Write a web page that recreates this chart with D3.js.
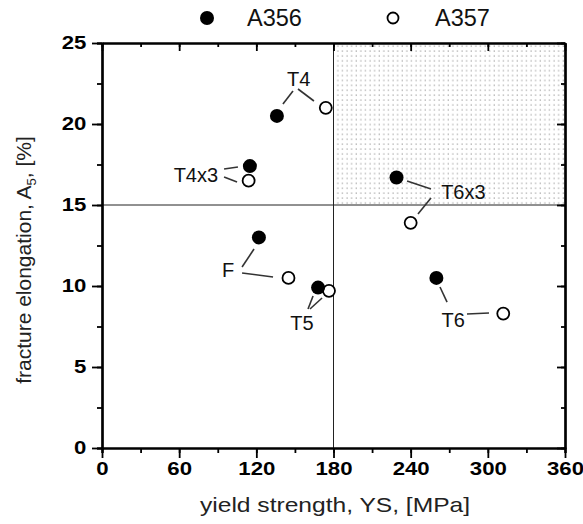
<!DOCTYPE html>
<html>
<head>
<meta charset="utf-8">
<script src="https://cdn.jsdelivr.net/npm/d3@7"></script>
<style>
 body { margin:0; background:#fff; }
 text { font-family: Arial, "Liberation Sans", sans-serif; }
</style>
</head>
<body>
<script>
// data
var states = ["T4", "T4x3", "F", "T5", "T6x3", "T6"];
var a356YS = [136, 115, 122, 168, 229, 260];
var a356A5 = [20.5, 17.4, 13.0, 9.9, 16.7, 10.5];
var a357YS = [174, 114, 145, 176.5, 240, 312];
var a357A5 = [21.0, 16.5, 10.5, 9.7, 13.9, 8.3];
// label anchors and leader lines, in data units
var labelX = [153, 73, 98, 155.5, 281, 273];
var labelY = [22.8, 16.85, 11.0, 7.7, 15.8, 7.9];
var lead356 = [[148.5,22.04,140.7,21.23],[94.9,17.22,105.7,17.35],[108.9,11.17,118.2,12.28],
               [160.2,8.58,164.1,9.38],[255.8,15.99,237.2,16.48],[268.3,9.01,262.8,9.94]];
var lead357 = [[152.4,22.16,164.8,21.42],[94.9,16.73,105.0,16.42],[108.9,10.8,133.0,10.56],
               [161.7,8.58,171.1,9.26],[255.8,15.43,245.7,14.44],[283.8,8.27,300.9,8.33]];
var xTicks = [0, 60, 120, 180, 240, 300, 360];
var yTicks = [0, 5, 10, 15, 20, 25];

var W = 583, H = 524;
var svg = d3.select("body").append("svg").attr("width", W).attr("height", H);
var x = d3.scaleLinear().domain([0, 360]).range([102, 565]);
var y = d3.scaleLinear().domain([0, 25]).range([448, 43]);

// dotted pattern for target region
var defs = svg.append("defs");
var pat = defs.append("pattern").attr("id", "dots").attr("patternUnits", "userSpaceOnUse")
   .attr("width", 4.6).attr("height", 4.9);
pat.append("rect").attr("x", 1.5).attr("y", 1.5).attr("width", 1.1).attr("height", 1.1).attr("fill", "#888");

svg.append("rect")
   .attr("x", x(180)).attr("y", y(25))
   .attr("width", x(360) - x(180)).attr("height", y(15) - y(25))
   .attr("fill", "url(#dots)");

// cross lines
svg.append("line").attr("x1", x(180)).attr("x2", x(180)).attr("y1", y(0)).attr("y2", y(25))
   .attr("stroke", "#222").attr("stroke-width", 1);
svg.append("line").attr("x1", x(0)).attr("x2", x(360)).attr("y1", y(15)).attr("y2", y(15))
   .attr("stroke", "#222").attr("stroke-width", 1);

// axes
var minorX = d3.range(0, 361, 30), minorY = d3.range(0, 25.1, 2.5);
function styleAxis(g) {
  g.select(".domain").attr("stroke", "#000").attr("stroke-width", 2.2);
  g.selectAll(".tick line").attr("stroke", "#000").attr("stroke-width", 1.8);
  g.selectAll("text").style("font-family", "Arial, 'Liberation Sans', sans-serif")
   .style("font-size", "18.5px").style("font-weight", "bold").attr("fill", "#000")
   .attr("transform", "scale(1.2,1)");
}
svg.append("g").attr("transform", "translate(0," + y(0) + ")")
   .call(d3.axisBottom(x).tickValues(minorX).tickSize(5).tickFormat(""))
   .call(styleAxis);
svg.append("g").attr("transform", "translate(0," + y(0) + ")")
   .call(d3.axisBottom(x).tickValues(xTicks).tickSize(10).tickSizeOuter(0).tickPadding(4))
   .call(styleAxis);
svg.append("g").attr("transform", "translate(" + x(0) + ",0)")
   .call(d3.axisLeft(y).tickValues(minorY).tickSize(5).tickFormat(""))
   .call(styleAxis);
svg.append("g").attr("transform", "translate(" + x(0) + ",0)")
   .call(d3.axisLeft(y).tickValues(yTicks).tickSize(10).tickSizeOuter(0).tickPadding(3))
   .call(styleAxis);
svg.append("g").attr("transform", "translate(0," + y(25) + ")")
   .call(d3.axisBottom(x).tickValues(minorX).tickSize(4).tickSizeOuter(0).tickFormat(""))
   .call(styleAxis);
svg.append("g").attr("transform", "translate(0," + y(25) + ")")
   .call(d3.axisBottom(x).tickValues(xTicks).tickSize(8).tickSizeOuter(0).tickFormat(""))
   .call(styleAxis);
svg.append("g").attr("transform", "translate(" + x(360) + ",0)")
   .call(d3.axisLeft(y).tickValues(minorY).tickSize(4).tickSizeOuter(0).tickFormat(""))
   .call(styleAxis);
svg.append("g").attr("transform", "translate(" + x(360) + ",0)")
   .call(d3.axisLeft(y).tickValues(yTicks).tickSize(8).tickSizeOuter(0).tickFormat(""))
   .call(styleAxis);

// axis titles
svg.append("text").attr("transform", "translate(335,512) scale(1.2,1)").attr("text-anchor", "middle")
   .style("font-size", "20.5px").attr("fill", "#222").text("yield strength, YS, [MPa]");
var yt = svg.append("text").attr("transform", "translate(31,260) rotate(-90)")
   .attr("text-anchor", "middle").style("font-size", "21px").attr("fill", "#222");
yt.append("tspan").text("fracture elongation, A");
yt.append("tspan").attr("dy", 5).style("font-size", "13px").text("5");
yt.append("tspan").attr("dy", -5).text(", [%]");

// leader lines
var leads = lead356.concat(lead357);
svg.selectAll(".lead").data(leads).enter().append("line")
   .attr("x1", function(d){ return x(d[0]); }).attr("y1", function(d){ return y(d[1]); })
   .attr("x2", function(d){ return x(d[2]); }).attr("y2", function(d){ return y(d[3]); })
   .attr("stroke", "#333").attr("stroke-width", 1.6);

// labels
svg.selectAll(".lbl").data(states).enter().append("text")
   .attr("x", function(d, i){ return x(labelX[i]); })
   .attr("y", function(d, i){ return y(labelY[i]); })
   .attr("dy", "0.36em").attr("text-anchor", "middle")
   .style("font-size", "20px").attr("fill", "#111").text(function(d){ return d; });

// points
svg.selectAll(".p357").data(states).enter().append("circle")
   .attr("cx", function(d, i){ return x(a357YS[i]); })
   .attr("cy", function(d, i){ return y(a357A5[i]); })
   .attr("r", 6).attr("fill", "#fff").attr("stroke", "#000").attr("stroke-width", 1.8);
svg.selectAll(".p356").data(states).enter().append("circle")
   .attr("cx", function(d, i){ return x(a356YS[i]); })
   .attr("cy", function(d, i){ return y(a356A5[i]); })
   .attr("r", 7).attr("fill", "#000");

// legend
svg.append("circle").attr("cx", 207).attr("cy", 18).attr("r", 7).attr("fill", "#000");
svg.append("text").attr("x", 247).attr("y", 18).attr("dy", "0.36em")
   .style("font-size", "23.5px").attr("fill", "#111").text("A356");
svg.append("circle").attr("cx", 393).attr("cy", 18).attr("r", 5.5).attr("fill", "#fff")
   .attr("stroke", "#000").attr("stroke-width", 1.8);
svg.append("text").attr("x", 435).attr("y", 18).attr("dy", "0.36em")
   .style("font-size", "23.5px").attr("fill", "#111").text("A357");
</script>
</body>
</html>
